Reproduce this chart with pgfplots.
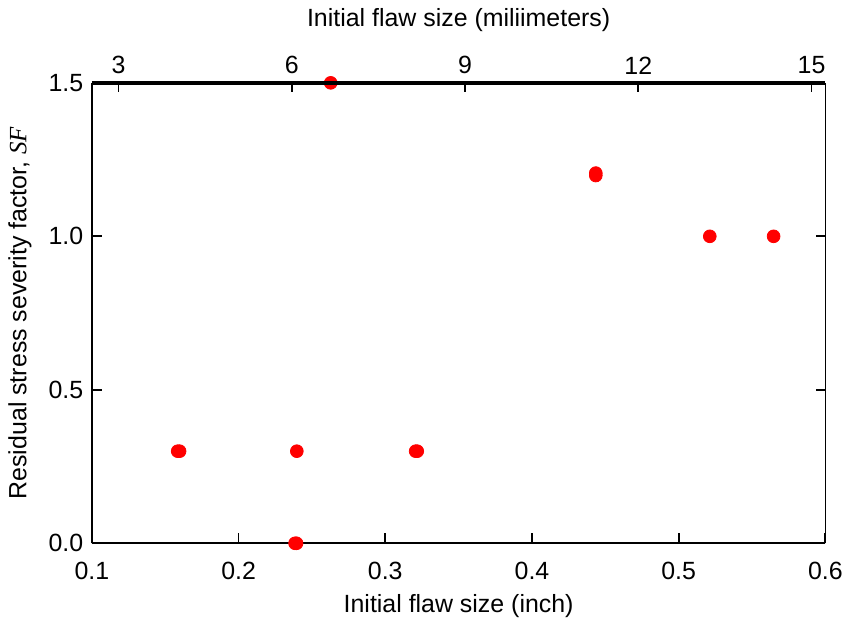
\documentclass[border=0pt]{standalone}
\usepackage{pgfplots}
\pgfplotsset{compat=1.18}
\usepackage{fontspec}
\setmainfont{Liberation Sans}
\newfontfamily\serifit{Liberation Serif}
\begin{document}
\fontsize{12.5bp}{15bp}\selectfont
\begin{tikzpicture}
\begin{axis}[
  scale only axis, width=368bp, height=231bp,
  xmin=0.1, xmax=0.6, ymin=0, ymax=1.5,
  xtick={0.1,0.2,...,0.6}, ytick={0,0.5,1,1.5},
  xtick pos=bottom, ytick pos=both,
  tick align=inside, major tick length=5bp,
  separate axis lines,
  axis line style={line width=0.9bp},
  every tick/.style={black, line width=0.9bp},
  axis x line*=bottom, axis y line*=left,
  /pgf/number format/assume math mode=true,
  xticklabel style={/pgf/number format/fixed,/pgf/number format/precision=1,/pgf/number format/fixed zerofill, font=\fontsize{12.5bp}{15bp}\selectfont, yshift=-5bp},
  yticklabel style={/pgf/number format/fixed,/pgf/number format/precision=1,/pgf/number format/fixed zerofill, font=\fontsize{12.5bp}{15bp}\selectfont},
  xlabel={Initial flaw size (inch)},
  ylabel={Residual stress severity factor, {\serifit\itshape SF}},
  label style={font=\fontsize{12.5bp}{15bp}\selectfont},
  xlabel style={yshift=1bp},
  ylabel style={yshift=0bp},
  clip=false,
]
\addplot[only marks, mark=*, mark size=3.2bp, color=red, mark options={draw=red, fill=red}] coordinates {
  (0.1585,0.3) (0.1598,0.3)
  (0.2397,0.3)
  (0.2385,0.0) (0.2395,0.0)
  (0.2628,1.5)
  (0.3207,0.3) (0.3218,0.3)
  (0.4435,1.198) (0.4435,1.206)
  (0.5212,1.0)
  (0.5647,1.0)
};
\end{axis}
\begin{axis}[
  scale only axis, width=368bp, height=231bp,
  xmin=2.54, xmax=15.24, ymin=0, ymax=1.5,
  axis x line*=top, axis y line*=right,
  separate axis lines,
  xtick={3,6,9,12,15}, ytick={0,0.5,1,1.5}, yticklabels={},
  tick align=inside, major tick length=4.5bp,
  x axis line style={line width=1.7bp},
  y axis line style={line width=0.9bp},
  every tick/.style={black, line width=0.9bp},
  /pgf/number format/assume math mode=true,
  xticklabel style={font=\fontsize{12.5bp}{15bp}\selectfont},
  xlabel={Initial flaw size (miliimeters)},
  xlabel style={yshift=4bp},
  label style={font=\fontsize{12.5bp}{15bp}\selectfont},
]
\end{axis}
\end{tikzpicture}
\end{document}
